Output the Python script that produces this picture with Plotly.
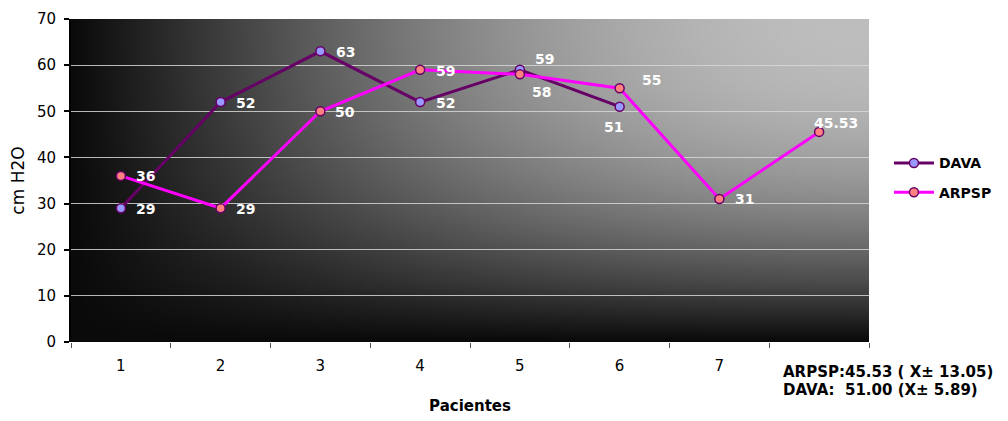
import base64
import struct
import zlib

import numpy as np
import plotly.graph_objects as go

# ---------------- data ----------------
categories = ["1", "2", "3", "4", "5", "6", "7", " "]
dava_values = [29, 52, 63, 52, 59, 51]
arpsp_values = [36, 29, 50, 59, 58, 55, 31, 45.53]
dava_labels = ["29", "52", "63", "52", "59", "51"]
arpsp_labels = ["36", "29", "50", "59", "58", "55", "31", "45.53"]
y_ticks = [0, 10, 20, 30, 40, 50, 60, 70]
summary_lines = ["ARPSP:45.53 ( X\u00b1 13.05)", "DAVA:\u00a0\u00a051.00 (X\u00b1 5.89)"]

# label offsets in pixels (dx, dy) relative to each point (dy positive = up)
dava_offsets = [(25, -1), (25, -1), (25, -1), (25, -1), (25, 11), (-6, -20)]
arpsp_offsets = [(25, 0), (25, -1), (25, -1), (25, -1), (22, -18), (32, 8), (25, 0), (17, 9)]


# ---------------- background gradient (PNG built in memory) ----------------
def make_png(arr):
    h, w = arr.shape
    raw = b"".join(b"\x00" + arr[i].tobytes() for i in range(h))

    def chunk(tag, data):
        c = struct.pack(">I", len(data)) + tag + data
        return c + struct.pack(">I", zlib.crc32(tag + data) & 0xFFFFFFFF)

    png = b"\x89PNG\r\n\x1a\n"
    png += chunk(b"IHDR", struct.pack(">IIBBBBB", w, h, 8, 0, 0, 0, 0))
    png += chunk(b"IDAT", zlib.compress(raw, 9))
    png += chunk(b"IEND", b"")
    return "data:image/png;base64," + base64.b64encode(png).decode()


W, H = 400, 160
u = np.linspace(0, 1, W)
v = np.linspace(0, 1, H)
fx = np.sin(u * np.pi / 2)
gy = 1 - v ** 2.2
img = 10 + 180 * fx[None, :] * gy[:, None]
img = np.clip(img, 0, 255).astype(np.uint8)
bg_src = make_png(img)

FONT = "DejaVu Sans, Liberation Sans, Arial, sans-serif"

fig = go.Figure()

fig.add_trace(go.Scatter(
    x=categories[:len(dava_values)], y=dava_values, name="DAVA",
    mode="lines+markers", legendgroup="a",
    line=dict(color="#660066", width=3),
    marker=dict(size=9, color="#9999ff", line=dict(color="#660066", width=1.5)),
))
fig.add_trace(go.Scatter(
    x=categories[:len(arpsp_values)], y=arpsp_values, name="ARPSP",
    mode="lines+markers", legendgroup="b",
    line=dict(color="#ff00ff", width=3),
    marker=dict(size=9, color="#ff8080", line=dict(color="#660066", width=1.5)),
))

label_font = dict(family=FONT, size=14, color="white", weight="bold")
annotations = []
for i, (val, lab, (dx, dy)) in enumerate(zip(dava_values, dava_labels, dava_offsets)):
    annotations.append(dict(x=i, y=val, text=lab, showarrow=False, xshift=dx, yshift=dy,
                            font=label_font))
for i, (val, lab, (dx, dy)) in enumerate(zip(arpsp_values, arpsp_labels, arpsp_offsets)):
    annotations.append(dict(x=i, y=val, text=lab, showarrow=False, xshift=dx, yshift=dy,
                            font=label_font))

PLOT_W, PLOT_H = 802, 323
sum_x = 1.0 - (873 - 785) / PLOT_W
for line, ypx in zip(summary_lines, [372, 390]):
    annotations.append(dict(
        xref="paper", yref="paper", x=sum_x, y=-(ypx - 342) / PLOT_H,
        xanchor="left", yanchor="middle", showarrow=False, align="left",
        text=line,
        font=dict(family=FONT, size=15, color="black", weight="bold"),
    ))

# page body has an 8px margin, so the figure is shifted by 8px
fig.update_layout(
    width=1000, height=413,
    margin=dict(l=63, r=135, t=11, b=79),
    paper_bgcolor="white",
    plot_bgcolor="rgba(0,0,0,0)",
    font=dict(family=FONT, size=15, color="black"),
    images=[dict(source=bg_src, xref="paper", yref="paper", x=0, y=1, sizex=1, sizey=1,
                 xanchor="left", yanchor="top", sizing="stretch", layer="below")],
    xaxis=dict(
        type="category", categoryorder="array", categoryarray=categories,
        range=[-0.5, len(categories) - 0.5], automargin=False,
        showgrid=False, showline=False, zeroline=False,
        ticks="outside", tickson="boundaries", ticklen=5, tickwidth=1, tickcolor="#555",
        ticklabelstandoff=13,
        tickfont=dict(family=FONT, size=15, color="black"),
        title=dict(text="Pacientes", font=dict(family=FONT, size=15, color="black", weight="bold"),
                   standoff=26),
    ),
    yaxis=dict(
        range=[0, 70], tickvals=y_ticks, ticktext=[str(t) for t in y_ticks],
        automargin=False,
        showgrid=True, gridcolor="rgba(215,215,215,0.85)", gridwidth=1,
        showline=True, linecolor="black", linewidth=2, zeroline=False,
        ticks="outside", ticklen=5, tickwidth=2, tickcolor="black",
        ticklabelstandoff=5,
        tickfont=dict(family=FONT, size=15, color="black"),
        title=dict(text="cm H2O", font=dict(family=FONT, size=17, color="black"), standoff=17),
    ),
    legend=dict(
        x=1.025, y=0.508, xanchor="left", yanchor="middle",
        bgcolor="rgba(0,0,0,0)", itemwidth=40, tracegroupgap=8,
        font=dict(family=FONT, size=14, color="black", weight="bold"),
    ),
    annotations=annotations,
)

fig.write_html("out.html")
